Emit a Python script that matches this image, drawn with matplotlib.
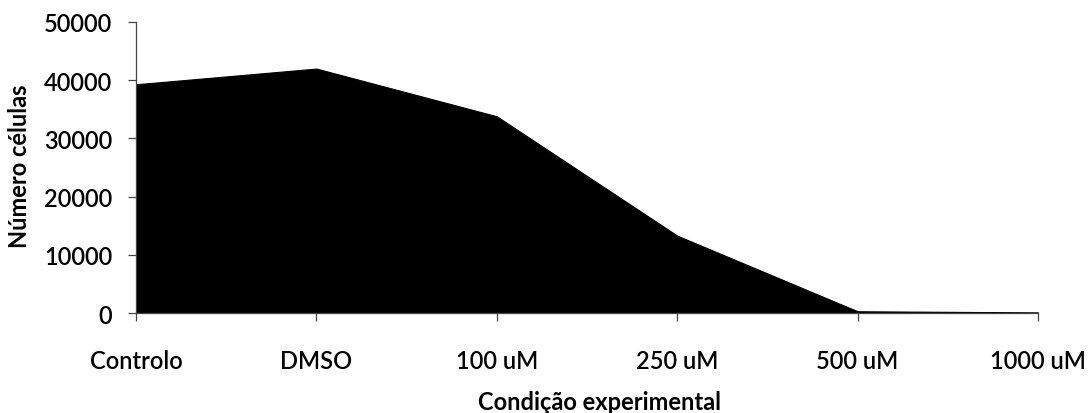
import matplotlib
matplotlib.use("Agg")
import matplotlib.pyplot as plt

categories = ["Controlo", "DMSO", "100 uM", "250 uM", "500 uM", "1000 uM"]
cell_counts = [39300, 42000, 33800, 13300, 300, 100]
y_ticks = [0, 10000, 20000, 30000, 40000, 50000]

plt.rcParams['font.family'] = ['Lato', 'DejaVu Sans']

fig = plt.figure(figsize=(10.92, 4.14), dpi=100)
ax = fig.add_axes([136/1092, 1 - 314/414, (1038-136)/1092, (314-23)/414])

x = list(range(len(categories)))
ax.fill_between(x, 0, cell_counts, color="black", linewidth=0.8)

ax.set_xlim(0, len(categories) - 1)
ax.set_ylim(0, 50000)
ax.set_yticks(y_ticks)
ax.set_yticklabels([str(v) for v in y_ticks], fontsize=17, fontweight="semibold")
ax.set_xticks(x)
ax.set_xticklabels(categories, fontsize=17, fontweight="semibold")

for s in ["top", "right"]:
    ax.spines[s].set_visible(False)
for s in ["left", "bottom"]:
    ax.spines[s].set_color("#444444")
    ax.spines[s].set_linewidth(0.9)

ax.tick_params(axis="y", direction="out", length=6, width=0.9, pad=11, colors="#444444", labelcolor="black")
ax.tick_params(axis="x", direction="out", length=6, width=0.9, pad=20, colors="#444444", labelcolor="black")

ax.set_ylabel("Número células", fontsize=17, fontweight="bold", va="center", ha="center")
ax.yaxis.set_label_coords((20 - 136) / 902, (314 - 166.5) / 291)
ax.set_xlabel("Condição experimental", fontsize=17, fontweight="bold", va="baseline", ha="center")
ax.xaxis.set_label_coords((600 - 136) / 902, (314 - 410) / 291)

fig.savefig("out.png", dpi=100)
